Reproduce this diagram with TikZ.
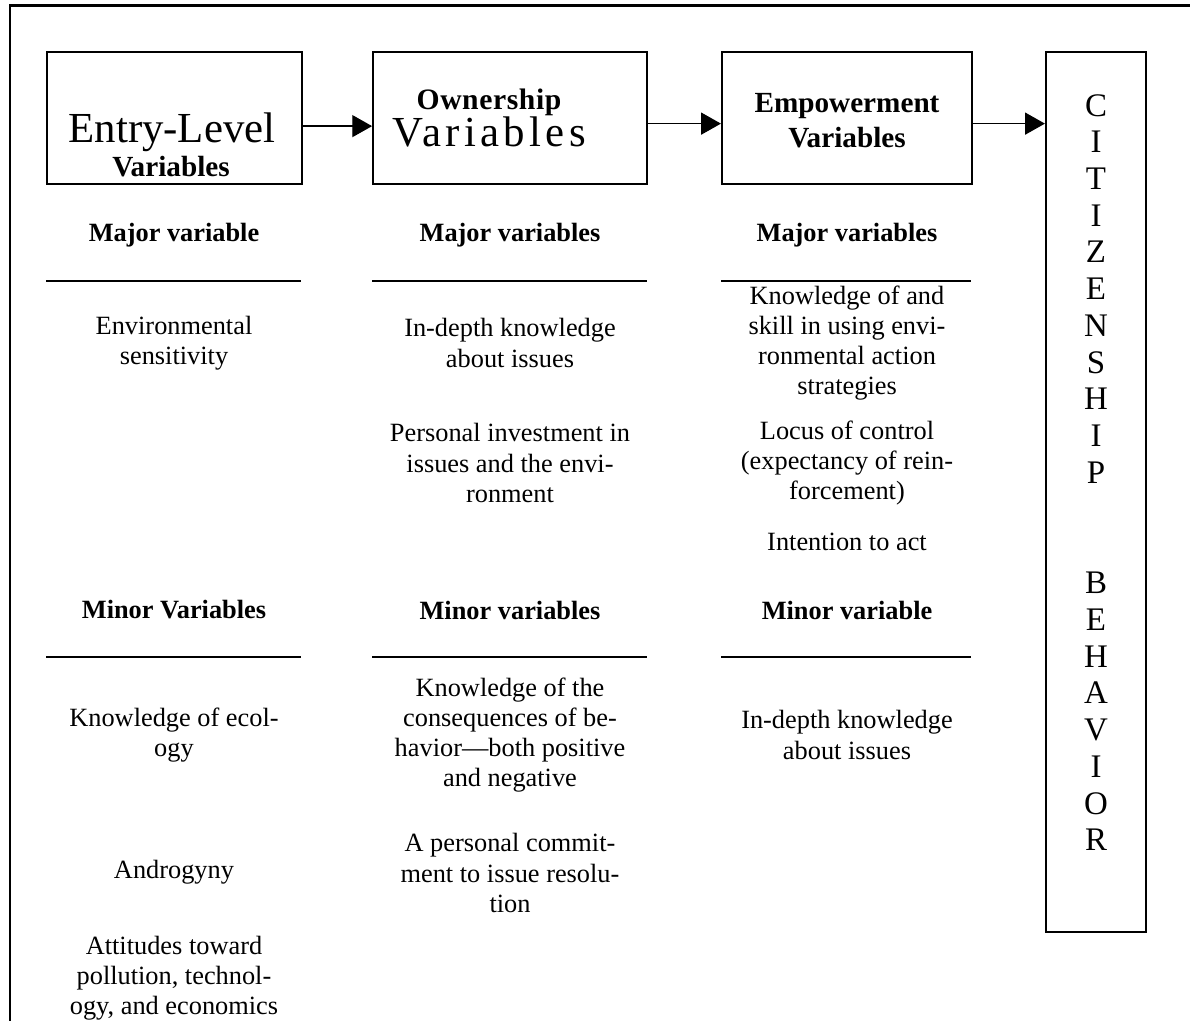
\documentclass[tikz,border=0pt]{standalone}
\usepackage{fontspec}
\setmainfont{Liberation Serif}
\usetikzlibrary{arrows.meta}

\begin{document}
\begin{tikzpicture}[x=0.016cm, y=-0.016cm]
                \tikzstyle{varbox} = [rectangle, draw, line width=1pt, inner sep=0pt]
                \tikzstyle{big} = [inner sep=0pt, font=\fontsize{19.5}{22}\selectfont]
                \tikzstyle{boxbold} = [inner sep=0pt, align=center, font=\bfseries\fontsize{13.3}{16}\selectfont]
                \tikzstyle{head} = [inner sep=0pt, font=\bfseries\fontsize{12}{13.7}\selectfont]
                \tikzstyle{item} = [inner sep=0pt, align=center, font=\fontsize{12}{13.7}\selectfont]
                \tikzstyle{rule} = [line width=0.9pt]
                \tikzstyle{arrow} = [line width=0.6pt, -{Triangle[length=9pt,width=10pt]}]

                \useasboundingbox (0,0) rectangle (1190,1021);
                \draw [line width=1pt] (10,1021) -- (10,5.5) -- (1190,5.5);

                \node (entry) [varbox, minimum width=4.08cm, minimum height=2.11cm] at (174.5,118) {};
                \node (ownership) [varbox, minimum width=4.38cm, minimum height=2.11cm] at (510,118) {};
                \node (empowerment) [varbox, minimum width=4cm, minimum height=2.11cm] at (847,118) {};
                \node (citizen) [varbox, minimum width=1.6cm, minimum height=14.08cm] at (1096,492) {};

                \node (entrytitle) [big] at (172,132) {Entry-Level};
                \node (entryvar) [boxbold] at (171,167) {Variables};
                \node (owntitle) [boxbold, font=\bfseries\fontsize{13.5}{16}\selectfont\addfontfeatures{LetterSpace=2}] at (489,102) {Ownership};
                \node (ownvar) [big, font=\fontsize{19.5}{22}\selectfont\addfontfeatures{LetterSpace=10}] at (489,132) {Variables};
                \node (emptitle) [boxbold] at (847,120.5) {Empowerment\\Variables};
                \node (citizentext) [inner sep=0pt, align=center, font=\fontsize{15}{16.73}\selectfont] at (1096,472.5)
                    {C\\I\\T\\I\\Z\\E\\N\\S\\H\\I\\P\\~\\~\\B\\E\\H\\A\\V\\I\\O\\R};

                \coordinate (entryout) at ([yshift=-0.13cm]entry.east);
                \coordinate (ownout) at ([yshift=-0.09cm]ownership.east);
                \coordinate (empout) at ([yshift=-0.09cm]empowerment.east);
                \draw [arrow] (entryout) -- (entryout -| ownership.west);
                \draw [arrow] (ownout) -- (ownout -| empowerment.west);
                \draw [arrow] (empout) -- (empout -| citizen.west);

                \node (entrymajor) [head] at (174,235) {Major variable};
                \node (ownmajor) [head] at (510,235) {Major variables};
                \node (empmajor) [head] at (847,235) {Major variables};
                \draw [rule] (46,281) -- (301,281);
                \draw [rule] (372,281) -- (647,281);
                \draw [rule] (721,281) -- (971,281);

                \node (sensitivity) [item] at (174,343) {Environmental\\sensitivity};
                \node (ownknow) [item] at (510,343) {In-depth knowledge\\about issues};
                \node (investment) [item] at (510,463) {Personal investment in\\issues and the envi-\\ronment};
                \node (skill) [item] at (847,343) {Knowledge of and\\skill in using envi-\\ronmental action\\strategies};
                \node (locus) [item] at (847,463) {Locus of control\\(expectancy of rein-\\forcement)};
                \node (intention) [item] at (847,542) {Intention to act};

                \node (entryminor) [head] at (174,610) {Minor Variables};
                \node (ownminor) [head] at (510,610) {Minor variables};
                \node (empminor) [head] at (847,610) {Minor variable};
                \draw [rule] (46,657) -- (301,657);
                \draw [rule] (372,657) -- (647,657);
                \draw [rule] (721,657) -- (971,657);

                \node (ecology) [item] at (174,735) {Knowledge of ecol-\\ogy};
                \node (androgyny) [item] at (174,872) {Androgyny};
                \node (attitudes) [item] at (174,978) {Attitudes toward\\pollution, technol-\\ogy, and economics};
                \node (consequences) [item] at (510,735) {Knowledge of the\\consequences of be-\\havior—both positive\\and negative};
                \node (commitment) [item] at (510,873) {A personal commit-\\ment to issue resolu-\\tion};
                \node (empknow) [item] at (847,735) {In-depth knowledge\\about issues};
            \end{tikzpicture}
\end{document}
